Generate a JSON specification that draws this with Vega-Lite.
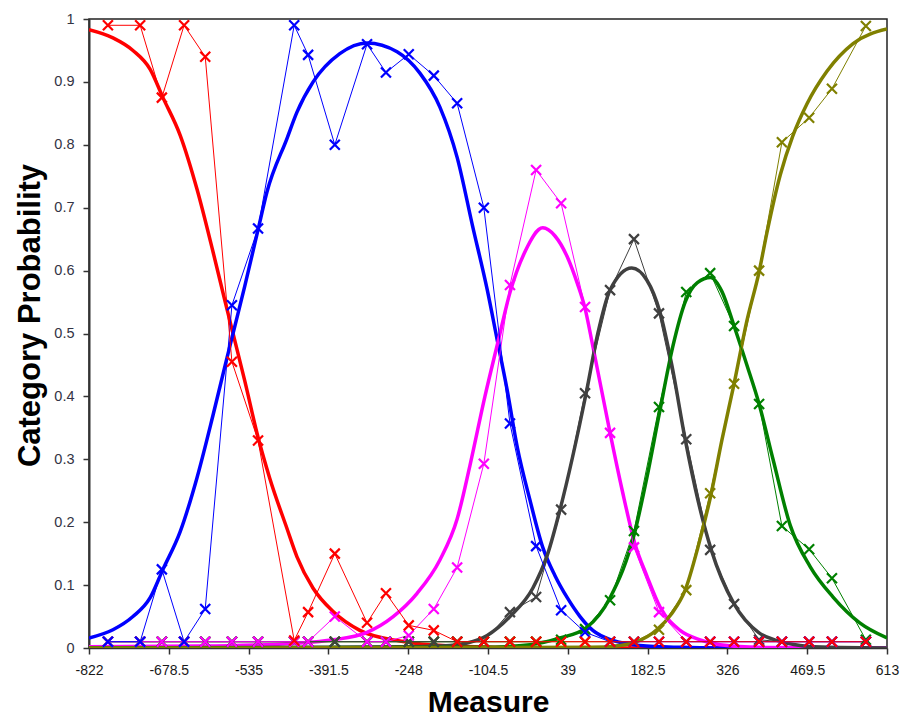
{
  "$schema": "https://vega.github.io/schema/vega-lite/v6.json",
  "width": 798,
  "height": 629,
  "autosize": {"type": "none"},
  "padding": {"left": 89, "top": 19, "right": 16, "bottom": 70},
  "background": "white",
  "config": {"view": {"stroke": "#222222", "strokeWidth": 1.5}},
  "datasets": {
    "smooth": [
      {"cat":"c0","x":-822,"p":0.983},{"cat":"c0","x":-779,"p":0.97},{"cat":"c0","x":-743,"p":0.95},{"cat":"c0","x":-712,"p":0.92},{"cat":"c0","x":-689,"p":0.875},{"cat":"c0","x":-658,"p":0.815},{"cat":"c0","x":-628,"p":0.73},{"cat":"c0","x":-599,"p":0.63},{"cat":"c0","x":-577,"p":0.55},{"cat":"c0","x":-563,"p":0.5},{"cat":"c0","x":-542,"p":0.425},{"cat":"c0","x":-518,"p":0.335},{"cat":"c0","x":-497,"p":0.27},{"cat":"c0","x":-466,"p":0.19},{"cat":"c0","x":-448,"p":0.145},{"cat":"c0","x":-419,"p":0.095},{"cat":"c0","x":-383,"p":0.058},{"cat":"c0","x":-335,"p":0.028},{"cat":"c0","x":-263,"p":0.011},{"cat":"c0","x":-173,"p":0.003},{"cat":"c0","x":-83,"p":0.001},{"cat":"c0","x":-25,"p":0},{"cat":"c0","x":613,"p":0},
      {"cat":"c1","x":-822,"p":0.016},{"cat":"c1","x":-779,"p":0.029},{"cat":"c1","x":-743,"p":0.05},{"cat":"c1","x":-712,"p":0.08},{"cat":"c1","x":-689,"p":0.125},{"cat":"c1","x":-658,"p":0.185},{"cat":"c1","x":-628,"p":0.27},{"cat":"c1","x":-599,"p":0.37},{"cat":"c1","x":-577,"p":0.45},{"cat":"c1","x":-563,"p":0.5},{"cat":"c1","x":-542,"p":0.575},{"cat":"c1","x":-518,"p":0.665},{"cat":"c1","x":-502,"p":0.725},{"cat":"c1","x":-466,"p":0.81},{"cat":"c1","x":-448,"p":0.852},{"cat":"c1","x":-419,"p":0.9},{"cat":"c1","x":-371,"p":0.945},{"cat":"c1","x":-322,"p":0.962},{"cat":"c1","x":-268,"p":0.948},{"cat":"c1","x":-227,"p":0.914},{"cat":"c1","x":-191,"p":0.86},{"cat":"c1","x":-160,"p":0.78},{"cat":"c1","x":-132,"p":0.67},{"cat":"c1","x":-106,"p":0.57},{"cat":"c1","x":-88,"p":0.49},{"cat":"c1","x":-70,"p":0.41},{"cat":"c1","x":-52,"p":0.32},{"cat":"c1","x":-29,"p":0.235},{"cat":"c1","x":-6,"p":0.16},{"cat":"c1","x":16,"p":0.115},{"cat":"c1","x":38,"p":0.08},{"cat":"c1","x":61,"p":0.05},{"cat":"c1","x":84,"p":0.028},{"cat":"c1","x":120,"p":0.012},{"cat":"c1","x":169,"p":0.004},{"cat":"c1","x":241,"p":0.001},{"cat":"c1","x":313,"p":0},{"cat":"c1","x":613,"p":0},
      {"cat":"c2","x":-822,"p":0.002},{"cat":"c2","x":-622,"p":0.003},{"cat":"c2","x":-443,"p":0.008},{"cat":"c2","x":-383,"p":0.013},{"cat":"c2","x":-322,"p":0.025},{"cat":"c2","x":-275,"p":0.05},{"cat":"c2","x":-232,"p":0.087},{"cat":"c2","x":-191,"p":0.14},{"cat":"c2","x":-160,"p":0.205},{"cat":"c2","x":-137,"p":0.29},{"cat":"c2","x":-110,"p":0.4},{"cat":"c2","x":-87,"p":0.485},{"cat":"c2","x":-65,"p":0.565},{"cat":"c2","x":-38,"p":0.63},{"cat":"c2","x":-6,"p":0.668},{"cat":"c2","x":16,"p":0.655},{"cat":"c2","x":38,"p":0.622},{"cat":"c2","x":56,"p":0.58},{"cat":"c2","x":70,"p":0.54},{"cat":"c2","x":84,"p":0.48},{"cat":"c2","x":115,"p":0.342},{"cat":"c2","x":137,"p":0.25},{"cat":"c2","x":160,"p":0.165},{"cat":"c2","x":181,"p":0.115},{"cat":"c2","x":205,"p":0.065},{"cat":"c2","x":241,"p":0.028},{"cat":"c2","x":277,"p":0.013},{"cat":"c2","x":313,"p":0.005},{"cat":"c2","x":385,"p":0.001},{"cat":"c2","x":613,"p":0},
      {"cat":"c3","x":-822,"p":0},{"cat":"c3","x":-443,"p":0.001},{"cat":"c3","x":-263,"p":0.002},{"cat":"c3","x":-173,"p":0.004},{"cat":"c3","x":-142,"p":0.008},{"cat":"c3","x":-106,"p":0.02},{"cat":"c3","x":-65,"p":0.05},{"cat":"c3","x":-24,"p":0.095},{"cat":"c3","x":3,"p":0.15},{"cat":"c3","x":25,"p":0.22},{"cat":"c3","x":72,"p":0.405},{"cat":"c3","x":93,"p":0.5},{"cat":"c3","x":115,"p":0.569},{"cat":"c3","x":154,"p":0.604},{"cat":"c3","x":181,"p":0.585},{"cat":"c3","x":205,"p":0.533},{"cat":"c3","x":226,"p":0.45},{"cat":"c3","x":250,"p":0.332},{"cat":"c3","x":273,"p":0.235},{"cat":"c3","x":297,"p":0.156},{"cat":"c3","x":338,"p":0.07},{"cat":"c3","x":383,"p":0.024},{"cat":"c3","x":415,"p":0.012},{"cat":"c3","x":457,"p":0.004},{"cat":"c3","x":511,"p":0.001},{"cat":"c3","x":613,"p":0},
      {"cat":"c4","x":-822,"p":0},{"cat":"c4","x":-119,"p":0.001},{"cat":"c4","x":-29,"p":0.005},{"cat":"c4","x":25,"p":0.016},{"cat":"c4","x":72,"p":0.032},{"cat":"c4","x":115,"p":0.08},{"cat":"c4","x":160,"p":0.186},{"cat":"c4","x":181,"p":0.27},{"cat":"c4","x":203,"p":0.37},{"cat":"c4","x":228,"p":0.48},{"cat":"c4","x":250,"p":0.55},{"cat":"c4","x":272,"p":0.581},{"cat":"c4","x":296,"p":0.589},{"cat":"c4","x":316,"p":0.567},{"cat":"c4","x":338,"p":0.512},{"cat":"c4","x":361,"p":0.45},{"cat":"c4","x":383,"p":0.388},{"cat":"c4","x":408,"p":0.3},{"cat":"c4","x":439,"p":0.195},{"cat":"c4","x":475,"p":0.129},{"cat":"c4","x":516,"p":0.081},{"cat":"c4","x":564,"p":0.04},{"cat":"c4","x":613,"p":0.016},
      {"cat":"c5","x":-822,"p":0},{"cat":"c5","x":79,"p":0.001},{"cat":"c5","x":133,"p":0.004},{"cat":"c5","x":163,"p":0.01},{"cat":"c5","x":199,"p":0.029},{"cat":"c5","x":226,"p":0.055},{"cat":"c5","x":250,"p":0.092},{"cat":"c5","x":273,"p":0.16},{"cat":"c5","x":297,"p":0.246},{"cat":"c5","x":316,"p":0.33},{"cat":"c5","x":338,"p":0.42},{"cat":"c5","x":361,"p":0.52},{"cat":"c5","x":383,"p":0.598},{"cat":"c5","x":397,"p":0.66},{"cat":"c5","x":421,"p":0.752},{"cat":"c5","x":444,"p":0.815},{"cat":"c5","x":469,"p":0.865},{"cat":"c5","x":505,"p":0.917},{"cat":"c5","x":552,"p":0.961},{"cat":"c5","x":613,"p":0.984}
    ],
    "emp": [
      {"x":-788,"c0":0.99,"c1":0.01,"c2":0.01,"c3":0.01,"c4":0.01,"c5":0.01},
      {"x":-730,"c0":0.99,"c1":0.01,"c2":0.01,"c3":0.01,"c4":0.01,"c5":0.01},
      {"x":-691,"c0":0.875,"c1":0.125,"c2":0.01,"c3":0.01,"c4":0.01,"c5":0.01},
      {"x":-651,"c0":0.99,"c1":0.01,"c2":0.01,"c3":0.01,"c4":0.01,"c5":0.01},
      {"x":-613,"c0":0.94,"c1":0.062,"c2":0.01,"c3":0.01,"c4":0.01,"c5":0.01},
      {"x":-565,"c0":0.455,"c1":0.545,"c2":0.01,"c3":0.01,"c4":0.01,"c5":0.01},
      {"x":-518,"c0":0.33,"c1":0.667,"c2":0.01,"c3":0.01,"c4":0.01,"c5":0.01},
      {"x":-453,"c0":0.012,"c1":0.99,"c2":0.01,"c3":0.01,"c4":0.01,"c5":0.01},
      {"x":-428,"c0":0.057,"c1":0.943,"c2":0.01,"c3":0.01,"c4":0.01,"c5":0.01},
      {"x":-380,"c0":0.15,"c1":0.8,"c2":0.05,"c3":0.01,"c4":0.01,"c5":0.01},
      {"x":-322,"c0":0.04,"c1":0.96,"c2":0.01,"c3":0.01,"c4":0.01,"c5":0.01},
      {"x":-288,"c0":0.087,"c1":0.915,"c2":0.01,"c3":0.01,"c4":0.01,"c5":0.01},
      {"x":-247,"c0":0.036,"c1":0.944,"c2":0.02,"c3":0.01,"c4":0.01,"c5":0.01},
      {"x":-202,"c0":0.028,"c1":0.91,"c2":0.062,"c3":0.01,"c4":0.01,"c5":0.01},
      {"x":-160,"c0":0.01,"c1":0.866,"c2":0.128,"c3":0.01,"c4":0.01,"c5":0.01},
      {"x":-112,"c0":0.01,"c1":0.7,"c2":0.293,"c3":0.01,"c4":0.01,"c5":0.01},
      {"x":-65,"c0":0.01,"c1":0.357,"c2":0.577,"c3":0.057,"c4":0.01,"c5":0.01},
      {"x":-18,"c0":0.01,"c1":0.162,"c2":0.76,"c3":0.081,"c4":0.01,"c5":0.01},
      {"x":27,"c0":0.01,"c1":0.06,"c2":0.707,"c3":0.22,"c4":0.013,"c5":0.01},
      {"x":70,"c0":0.01,"c1":0.025,"c2":0.542,"c3":0.405,"c4":0.03,"c5":0.01},
      {"x":115,"c0":0.01,"c1":0.01,"c2":0.342,"c3":0.569,"c4":0.076,"c5":0.01},
      {"x":158,"c0":0.01,"c1":0.01,"c2":0.16,"c3":0.65,"c4":0.186,"c5":0.01},
      {"x":203,"c0":0.01,"c1":0.01,"c2":0.057,"c3":0.532,"c4":0.383,"c5":0.029},
      {"x":252,"c0":0.01,"c1":0.01,"c2":0.01,"c3":0.332,"c4":0.566,"c5":0.092},
      {"x":295,"c0":0.01,"c1":0.01,"c2":0.01,"c3":0.156,"c4":0.596,"c5":0.246},
      {"x":338,"c0":0.01,"c1":0.01,"c2":0.01,"c3":0.07,"c4":0.512,"c5":0.42},
      {"x":383,"c0":0.01,"c1":0.01,"c2":0.01,"c3":0.013,"c4":0.388,"c5":0.6},
      {"x":424,"c0":0.01,"c1":0.01,"c2":0.01,"c3":0.01,"c4":0.194,"c5":0.804},
      {"x":473,"c0":0.01,"c1":0.01,"c2":0.01,"c3":0.01,"c4":0.157,"c5":0.843},
      {"x":514,"c0":0.01,"c1":0.01,"c2":0.01,"c3":0.01,"c4":0.111,"c5":0.889},
      {"x":575,"c0":0.01,"c1":0.01,"c2":0.01,"c3":0.01,"c4":0.013,"c5":0.989}
    ]
  },
  "encoding": {
    "x": {
      "field": "x", "type": "quantitative",
      "scale": {"domain": [-822, 613], "nice": false, "zero": false},
      "axis": {
        "values": [-822, -678.5, -535, -391.5, -248, -104.5, 39, 182.5, 326, 469.5, 613],
        "labelExpr": "'' + datum.value",
        "grid": false,
        "labelFont": "Liberation Sans",
        "labelFontSize": 14,
        "labelColor": "#1a1a1a",
        "labelPadding": 9,
        "labelFlush": false,
        "tickSize": 6,
        "tickColor": "#333333",
        "tickWidth": 1.5,
        "domainColor": "#333333",
        "domainWidth": 1.5,
        "title": "Measure",
        "titleFont": "Liberation Sans",
        "titleFontSize": 30,
        "titleFontWeight": "bold",
        "titleColor": "#000000",
        "titlePadding": 10
      }
    },
    "y": {
      "field": "p", "type": "quantitative",
      "scale": {"domain": [0, 1], "nice": false, "zero": true},
      "axis": {
        "values": [0, 0.1, 0.2, 0.3, 0.4, 0.5, 0.6, 0.7, 0.8, 0.9, 1],
        "labelExpr": "'' + datum.value",
        "grid": false,
        "labelFont": "Liberation Sans",
        "labelFontSize": 14.5,
        "labelColor": "#333344",
        "labelPadding": 9,
        "labelFlush": false,
        "tickSize": 6,
        "tickColor": "#333333",
        "tickWidth": 1.5,
        "domainColor": "#333333",
        "domainWidth": 2,
        "title": "Category Probability",
        "titleFont": "Liberation Sans",
        "titleFontSize": 31,
        "titleFontWeight": "bold",
        "titleColor": "#000000",
        "titlePadding": 7,
        "titleY": 296
      }
    },
    "color": {
      "field": "cat", "type": "nominal",
      "scale": {"domain": ["c0", "c1", "c2", "c3", "c4", "c5"], "range": ["#ff0000", "#0000ff", "#ff00ff", "#404040", "#008000", "#808000"]},
      "legend": null
    }
  },
  "layer": [
    {
      "data": {"name": "smooth"},
      "mark": {"type": "line", "strokeWidth": 3.5, "interpolate": "monotone", "clip": true}
    },
    {
      "data": {"name": "emp"},
      "transform": [{"fold": ["c5", "c4", "c3", "c2", "c1", "c0"], "as": ["cat", "p"]}],
      "mark": {"type": "line", "strokeWidth": 1, "clip": true}
    },
    {
      "data": {"name": "emp"},
      "transform": [{"fold": ["c5", "c4", "c3", "c2", "c1", "c0"], "as": ["cat", "p"]}],
      "mark": {"type": "point", "shape": "M-1,-1L1,1M-1,1L1,-1", "size": 100, "strokeWidth": 2.2, "filled": false, "opacity": 1}
    }
  ]
}
